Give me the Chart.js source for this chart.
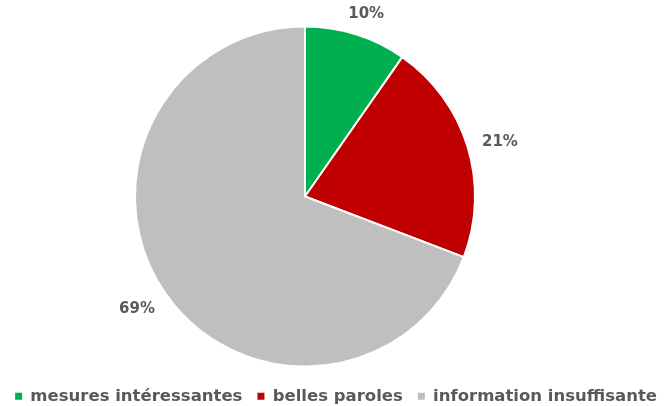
<!DOCTYPE html>
<html>
<head>
<meta charset="utf-8">
<script src="https://cdn.jsdelivr.net/npm/chart.js@4/dist/chart.umd.min.js"></script>
<style>
  html, body { margin: 0; padding: 0; background: #fff; }
  #wrap { width: 667px; height: 406px; }
</style>
</head>
<body>
<div id="wrap"><canvas id="pie"></canvas></div>
<script>
// categories and values
var categories = ["mesures intéressantes", "belles paroles", "information insuffisante"];
var shares = [9.7, 21.1, 69.2];
var colours = ["#00B050", "#C00000", "#BFBFBF"];

// draws the percent labels just outside each slice
var outsideLabels = {
	id: "outsideLabels",
	afterDatasetsDraw: function(chart) {
		var ctx = chart.ctx;
		var meta = chart.getDatasetMeta(0);
		var total = shares.reduce(function(a, b) { return a + b; }, 0);
		ctx.save();
		ctx.font = "bold 15px 'DejaVu Sans'";
		ctx.fillStyle = "#595959";
		ctx.textAlign = "center";
		ctx.textBaseline = "middle";
		meta.data.forEach(function(arc, i) {
			var p = arc.getProps(["x", "y", "startAngle", "endAngle", "outerRadius"], true);
			var mid = (p.startAngle + p.endAngle) / 2;
			var txt = Math.round(shares[i] / total * 100) + "%";
			var w = ctx.measureText(txt).width;
			var d = p.outerRadius + 16;
			var tx = p.x + Math.cos(mid) * (d + w / 2);
			var ty = p.y + Math.sin(mid) * (d + 8) + 3;
			ctx.fillText(txt, tx, ty);
		});
		ctx.restore();
	}
};

// the pie sits left of the legend's centre: plot area spans 0..610
var shiftPie = {
	id: "shiftPie",
	afterLayout: function(chart) {
		chart.chartArea.left = 0;
		chart.chartArea.right = 610;
		chart.chartArea.width = 610;
	}
};

var ctx = document.getElementById("pie").getContext("2d");
var chart = new Chart(ctx, {
	type: "pie",
	data: {
		labels: categories,
		datasets: [{
			data: shares,
			backgroundColor: colours,
			borderColor: "#ffffff",
			borderWidth: 2,
			radius: 170
		}]
	},
	options: {
		responsive: true,
		maintainAspectRatio: false,
		animation: false,
		layout: { padding: { top: 20, left: -50, right: -5, bottom: -8.5 } },
		plugins: {
			tooltip: { enabled: false },
			legend: {
				position: "bottom",
				align: "end",
				labels: {
					color: "#595959",
					font: { family: "'DejaVu Sans'", size: 16.5, weight: "bold" },
					boxWidth: 7,
					boxHeight: 7,
					padding: 15,
					generateLabels: function(chart) {
						var items = Chart.overrides.pie.plugins.legend.labels.generateLabels(chart);
						items.forEach(function(it) { it.lineWidth = 0; it.strokeStyle = it.fillStyle; });
						return items;
					}
				}
			}
		}
	},
	plugins: [outsideLabels, shiftPie]
});
</script>
</body>
</html>
